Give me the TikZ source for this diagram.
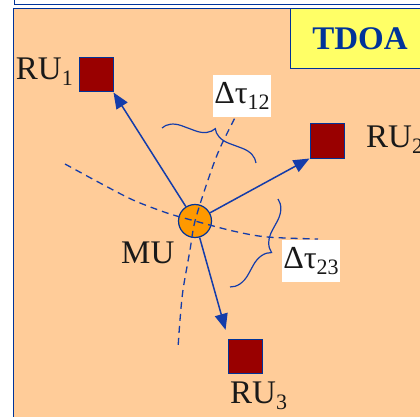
\documentclass[tikz,border=0pt]{standalone}
\usepackage{fontspec}
\setmainfont{Liberation Serif}
\usetikzlibrary{arrows.meta,decorations.pathreplacing}
\definecolor{peach}{RGB}{255,204,153}
\definecolor{dblue}{RGB}{0,51,153}
\definecolor{ablue}{RGB}{20,60,170}
\definecolor{dred}{RGB}{153,0,0}
\definecolor{mor}{RGB}{255,153,0}
\definecolor{tyel}{RGB}{255,255,102}
\newcommand{\mysub}[1]{\raisebox{-6pt}{\fontsize{22}{22}\selectfont #1}}
\begin{document}
\begin{tikzpicture}[x=1pt,y=-1pt,
 ru/.style={draw=dblue, fill=dred, line width=1pt, minimum size=34pt, inner sep=0pt},
 lbl/.style={font=\fontsize{33}{35}\selectfont, inner sep=0pt, text=black!90},
 arr/.style={draw=ablue, line width=1.5pt, -{Triangle[length=16pt,width=13pt]}},
 dsh/.style={draw=ablue, line width=1.3pt, dash pattern=on 7pt off 5pt},
 brc/.style={draw=ablue, line width=1.2pt, decorate, decoration={brace, amplitude=#1}},
 wbox/.style={fill=white, inner sep=0pt, minimum width=58pt, minimum height=42pt, font=\fontsize{32}{34}\selectfont, text=black!90}
]
\useasboundingbox (0,0) rectangle (420,417);
\fill[white] (0,0) rectangle (420,417);
\draw[dblue, line width=1pt] (14,-5) -- (14,5) -- (425,5);
\fill[peach] (13,9) rectangle (425,425);
\draw[dblue, line width=1pt] (13,425) -- (13,9) -- (425,9);
\node[draw=dblue, fill=tyel, line width=1pt, minimum width=140pt, minimum height=60pt, inner sep=0pt,
      font=\fontsize{33}{35}\selectfont\bfseries, text=dblue] (tdoa) at (360,39) {TDOA};

\node[ru] (ru1) at (96,75) {};
\node[ru] (ru2) at (327,141) {};
\node[ru] (ru3) at (245.5,356) {};
\node[draw=dblue, fill=mor, line width=1.2pt, circle, minimum size=33pt, inner sep=0pt] (mu) at (195,221) {};

\node[lbl, anchor=base east] (l1) at (73,80) {RU\mysub{1}};
\node[lbl, anchor=base west] (l2) at (366,147) {RU\mysub{2}};
\node[lbl, anchor=base west] (l3) at (230,403) {RU\mysub{3}};
\node[lbl, anchor=base west] (lmu) at (121,263) {MU};

\draw[dsh] plot[smooth] coordinates {(65,164) (100,183) (133,200) (167,213) (195,221) (233,231) (267,237) (318,239)};
\draw[dsh] plot[smooth] coordinates {(240,108) (220,148) (208,180) (195,221) (190,250) (183,290) (180,320) (178,348)};

\draw[arr] (mu) -- (ru1.south east);
\draw[arr] (mu) -- (ru2.south west);
\draw[arr, shorten >=9pt] (mu) -- (ru3.north west);

\draw[brc=18pt] (162,128) -- (256,163);
\draw[brc=20pt] (278,199) -- (230,287);

\node[wbox] (d12) at (242,96) {Δτ\mysub{12}};
\node[wbox] (d23) at (311,261) {Δτ\mysub{23}};
\end{tikzpicture}
\end{document}
